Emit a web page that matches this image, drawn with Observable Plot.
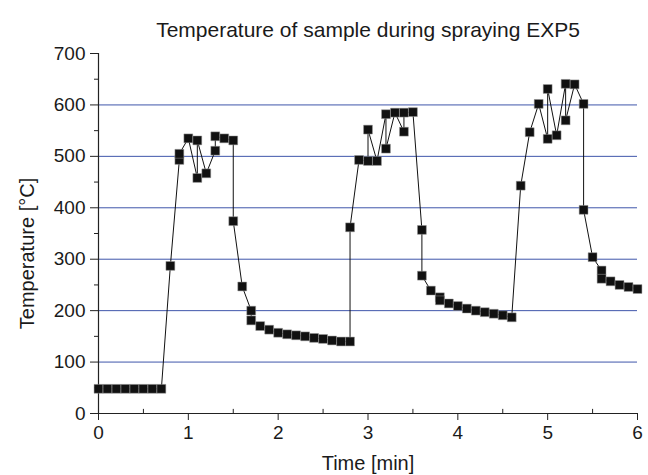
<!DOCTYPE html>
<html>
<head>
<meta charset="utf-8">
<script src="https://cdn.jsdelivr.net/npm/d3@7"></script>
<script src="https://cdn.jsdelivr.net/npm/@observablehq/plot@0.6"></script>
<style>
  html, body { margin: 0; padding: 0; background: #fff; }
</style>
</head>
<body>
<div id="chart"></div>
<script>
// Time [min]
const time = [
  0, 0.1, 0.2, 0.3, 0.4, 0.5, 0.6, 0.7,
  0.8, 0.9, 0.9, 1.0, 1.1, 1.1, 1.2, 1.3, 1.3, 1.4, 1.5, 1.5,
  1.6, 1.7, 1.7, 1.8, 1.9, 2.0, 2.1, 2.2, 2.3, 2.4, 2.5, 2.6, 2.7, 2.8,
  2.8, 2.9, 3.0, 3.0, 3.1, 3.2, 3.2, 3.3, 3.4, 3.4, 3.5, 3.6,
  3.6, 3.7, 3.8, 3.8, 3.9, 4.0, 4.1, 4.2, 4.3, 4.4, 4.5, 4.6,
  4.7, 4.8, 4.9, 5.0, 5.0, 5.1, 5.2, 5.2, 5.3, 5.4, 5.4,
  5.5, 5.6, 5.6, 5.7, 5.8, 5.9, 6.0
];
// Temperature [°C]
const temperature = [
  48, 48, 48, 48, 48, 48, 48, 48,
  287, 493, 505, 535, 458, 531, 467, 511, 539, 535, 531, 374,
  247, 200, 181, 170, 163, 157, 154, 152, 150, 147, 145, 142, 140, 140,
  362, 493, 491, 552, 491, 582, 515, 585, 548, 585, 586, 357,
  268, 239, 226, 220, 214, 209, 204, 200, 197, 194, 191, 187,
  443, 547, 602, 534, 631, 541, 641, 570, 640, 602, 396,
  304, 278, 262, 257, 250, 246, 242
];
const yTicks = [0, 100, 200, 300, 400, 500, 600, 700];
const yMinor = [50, 150, 250, 350, 450, 550, 650];
const gridLines = [100, 200, 300, 400, 500, 600];
const xTicks = [0, 1, 2, 3, 4, 5, 6];
const xMinor = [0.5, 1.5, 2.5, 3.5, 4.5, 5.5];
const title = "Temperature of sample during spraying EXP5";
const xLabel = "Time [min]";
const yLabel = "Temperature [°C]";

const data = time.map((t, i) => ({t, v: temperature[i]}));

const chart = Plot.plot({
  width: 648,
  height: 475,
  marginLeft: 98,
  marginRight: 11,
  marginTop: 53,
  marginBottom: 62,
  x: {domain: [0, 6]},
  y: {domain: [0, 700]},
  style: {fontFamily: "'Liberation Sans', Arial, sans-serif", fontSize: "19px", color: "#1a1a1a", background: "#fff"},
  marks: [
    Plot.ruleY(gridLines, {stroke: "#3f55aa", strokeWidth: 1}),
    Plot.axisY({ticks: yMinor, tickSize: 4, text: null, label: null, stroke: "#222"}),
    Plot.axisY({ticks: yTicks, tickSize: 8, tickPadding: 5, label: null, fontSize: 19, stroke: "#222", tickFormat: d => String(d)}),
    Plot.axisX({ticks: xTicks, tickSize: 7, tickPadding: 5, label: null, fontSize: 19, stroke: "#222", tickFormat: d => String(d)}),
    Plot.ruleX(xMinor, {y1: 0, y2: 8, stroke: "#222"}),
    Plot.ruleX([0], {stroke: "#222", strokeWidth: 1.2}),
    Plot.ruleY([0], {stroke: "#222", strokeWidth: 1.2}),
    Plot.line(data, {x: "t", y: "v", stroke: "#111", strokeWidth: 1}),
    Plot.dot(data, {x: "t", y: "v", symbol: "square", r: 5, fill: "#111", stroke: "#999", strokeWidth: 0.5}),
    Plot.text([title], {frameAnchor: "top", dy: -31, fontSize: 21, fill: "#1a1a1a"}),
    Plot.text([xLabel], {frameAnchor: "bottom", lineAnchor: "middle", dy: 50, fontSize: 20, fill: "#1a1a1a"}),
    Plot.text([yLabel], {frameAnchor: "left", textAnchor: "middle", lineAnchor: "middle", dx: -71, dy: 20, rotate: -90, fontSize: 20, fill: "#1a1a1a"})
  ]
});
document.getElementById("chart").appendChild(chart);
</script>
</body>
</html>
